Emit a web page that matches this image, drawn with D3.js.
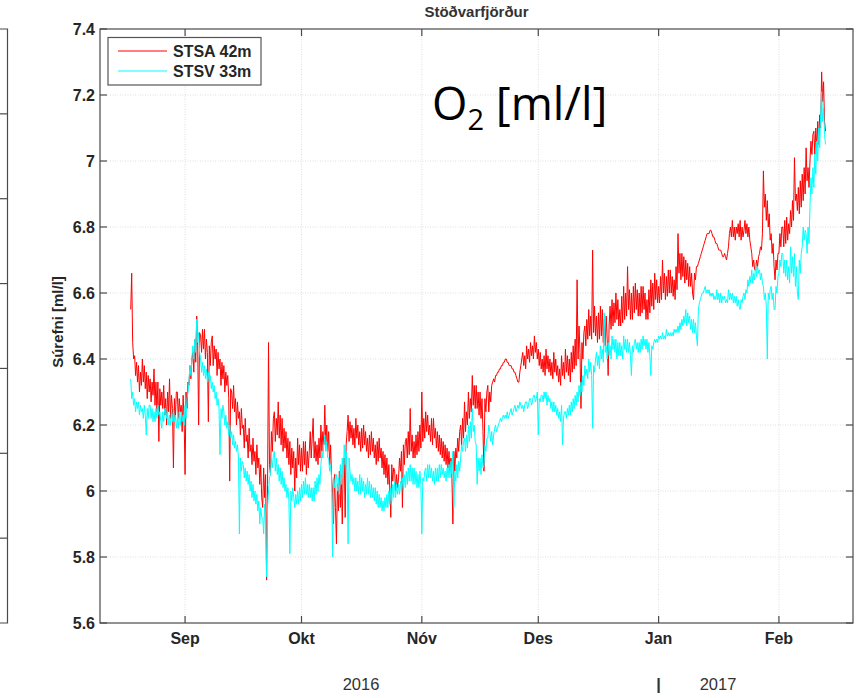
<!DOCTYPE html>
<html><head><meta charset="utf-8">
<script src="https://cdn.jsdelivr.net/npm/d3@7"></script>
<style>body{margin:0;background:#fff} svg{display:block}</style>
</head><body>
<svg id="c" width="858" height="698"></svg>
<script>
const chartTitle = "Stöðvarfjörður";
const yLabel = "Súrefni [ml/l]";
const annotation = ["O", "2", " [ml/l]"];
const seriesNames = ["STSA 42m", "STSV 33m"];
const seriesColors = ["#ff0000", "#00ffff"];
const yTicks = [5.6, 5.8, 6, 6.2, 6.4, 6.6, 6.8, 7, 7.2, 7.4];
const monthTicks = ["2016-09-01", "2016-10-01", "2016-11-01", "2016-12-01", "2017-01-01", "2017-02-01"];
const monthLabels = ["Sep", "Okt", "Nóv", "Des", "Jan", "Feb"];
const yearLabels = ["2016", "|", "2017"];
const startTime = "2016-08-18T00:00:00Z";
const stepHours = 6;

// STSA 42m (red), four readings per day from 18 Aug 2016
const stsa = [
6.55,6.66,6.45,6.40, 6.41,6.35,6.39,6.33, 6.38,6.30,6.36,6.32, 6.40,6.33,6.38,6.31, 6.36,6.28,6.35,6.30,
6.34,6.27,6.33,6.29, 6.37,6.26,6.33,6.24, 6.33,6.15,6.31,6.26, 6.30,6.25,6.32,6.23, 6.28,6.20,6.30,6.24,
6.34,6.22,6.29,6.25, 6.07,6.28,6.22,6.30, 6.30,6.22,6.28,6.24, 6.26,6.18,6.29,6.22, 6.05,6.30,6.25,6.33,
6.32,6.38,6.34,6.40, 6.42,6.36,6.46,6.39, 6.53,6.44,6.20,6.48, 6.47,6.42,6.49,6.43, 6.49,6.40,6.46,6.42,
6.21,6.44,6.38,6.45, 6.47,6.38,6.44,6.40, 6.43,6.35,6.42,6.37, 6.40,6.32,6.39,6.34, 6.38,6.30,6.36,6.32,
6.35,6.28,6.03,6.31, 6.30,6.25,6.32,6.24, 6.28,6.20,6.27,6.22, 6.24,6.17,6.25,6.19, 6.20,6.13,6.22,6.15,
6.17,6.10,6.19,6.12, 6.14,6.08,6.16,6.09, 6.12,6.05,6.14,6.07, 6.10,6.02,6.08,5.98, 5.95,6.07,5.98,6.05,
5.73,6.02,6.45,6.08, 6.05,6.18,6.12,6.22, 6.24,6.15,6.22,6.17, 6.27,6.16,6.23,6.14, 6.22,6.12,6.19,6.13,
6.18,6.10,6.16,6.08, 6.15,6.05,6.13,6.07, 6.12,6.00,6.10,6.04, 6.16,6.08,6.14,6.06, 6.13,6.06,6.15,6.08,
6.15,6.05,6.12,6.07, 6.12,6.18,6.10,6.16, 6.22,6.10,6.15,6.09, 6.14,6.08,6.16,6.10, 6.20,6.12,6.18,6.14,
6.26,6.14,6.20,6.12, 6.18,6.08,6.14,6.04, 6.00,5.90,6.05,5.95, 5.84,6.02,5.94,6.06, 5.95,6.05,5.90,6.08,
6.10,5.92,6.14,6.18, 6.23,6.15,6.21,6.16, 6.20,6.14,6.19,6.13, 6.22,6.16,6.20,6.14, 6.18,6.12,6.19,6.13,
6.20,6.14,6.18,6.12, 6.16,6.10,6.17,6.11, 6.18,6.12,6.16,6.10, 6.14,6.08,6.15,6.09, 6.16,6.10,6.13,6.07,
6.12,6.05,6.11,6.04, 6.10,6.02,6.08,6.00, 5.92,6.08,6.03,6.07, 6.06,6.00,6.05,6.01, 6.04,6.10,6.06,6.12,
5.95,6.14,6.08,6.15, 6.16,6.10,6.18,6.11, 6.25,6.12,6.17,6.10, 6.15,6.10,6.17,6.11, 6.18,6.12,6.20,6.13,
6.30,6.15,6.22,6.16, 6.24,6.18,6.23,6.17, 6.20,6.15,6.22,6.14, 6.22,6.16,6.19,6.13, 6.18,6.12,6.17,6.11,
6.16,6.10,6.15,6.09, 6.14,6.08,6.13,6.07, 6.12,6.06,6.10,6.04, 5.90,6.12,6.06,6.13, 6.10,6.16,6.12,6.18,
6.20,6.14,6.22,6.16, 6.27,6.18,6.24,6.20, 6.30,6.22,6.28,6.24, 6.35,6.26,6.32,6.25, 6.32,6.25,6.30,6.23,
6.30,6.22,6.28,6.18, 6.06,6.28,6.24,6.30, 6.32,6.24,6.30,6.27, 6.32,6.33,6.34,6.33, 6.35,6.35,6.36,6.36,
6.37,6.37,6.38,6.38, 6.39,6.39,6.40,6.40, 6.39,6.39,6.38,6.38, 6.38,6.37,6.37,6.36, 6.36,6.35,6.34,6.33,
6.33,6.36,6.38,6.40, 6.42,6.38,6.41,6.37, 6.44,6.40,6.43,6.39, 6.45,6.41,6.44,6.40, 6.47,6.42,6.45,6.40,
6.43,6.38,6.42,6.37, 6.40,6.36,6.41,6.35, 6.43,6.37,6.41,6.36, 6.40,6.35,6.39,6.34, 6.42,6.36,6.40,6.35,
6.38,6.33,6.37,6.32, 6.41,6.35,6.39,6.34, 6.43,6.36,6.41,6.35, 6.40,6.33,6.42,6.36, 6.44,6.37,6.46,6.38,
6.64,6.40,6.50,6.42, 6.25,6.45,6.40,6.48, 6.50,6.44,6.52,6.46, 6.55,6.47,6.53,6.46, 6.73,6.48,6.56,6.47,
6.53,6.45,6.54,6.46, 6.56,6.47,6.55,6.45, 6.52,6.44,6.53,6.46, 6.35,6.50,6.56,6.49, 6.58,6.50,6.57,6.51,
6.60,6.52,6.58,6.50, 6.55,6.50,6.59,6.51, 6.62,6.52,6.60,6.53, 6.68,6.55,6.61,6.52, 6.60,6.52,6.62,6.54,
6.63,6.55,6.61,6.53, 6.60,6.53,6.62,6.54, 6.62,6.55,6.60,6.52, 6.58,6.52,6.61,6.54, 6.64,6.56,6.63,6.55,
6.66,6.58,6.64,6.57, 6.62,6.57,6.65,6.58, 6.70,6.60,6.66,6.58, 6.65,6.59,6.67,6.60, 6.67,6.60,6.65,6.59,
6.64,6.58,6.68,6.61, 6.78,6.66,6.72,6.64, 6.72,6.65,6.71,6.63, 6.70,6.64,6.69,6.62, 6.68,6.62,6.66,6.60,
6.58,6.66,6.64,6.68, 6.68,6.69,6.70,6.71, 6.72,6.73,6.74,6.75, 6.76,6.77,6.78,6.78, 6.78,6.79,6.79,6.78,
6.77,6.77,6.76,6.75, 6.75,6.74,6.73,6.73, 6.73,6.72,6.71,6.71, 6.72,6.71,6.70,6.72, 6.74,6.78,6.80,6.77,
6.82,6.77,6.80,6.76, 6.80,6.78,6.81,6.77, 6.82,6.76,6.80,6.77, 6.79,6.82,6.78,6.81, 6.77,6.80,6.76,6.74,
6.72,6.68,6.70,6.67, 6.67,6.70,6.68,6.71, 6.72,6.74,6.73,6.78, 6.97,6.86,6.90,6.82, 6.88,6.80,6.84,6.76,
6.78,6.72,6.75,6.68, 6.64,6.70,6.67,6.72, 6.72,6.78,6.74,6.80, 6.80,6.74,6.82,6.75, 6.83,6.76,6.81,6.78,
6.85,6.80,6.88,6.82, 7.01,6.88,6.90,6.85, 6.92,6.84,6.94,6.86, 6.96,6.88,6.98,6.90, 7.04,6.94,6.98,6.92,
7.00,7.06,7.02,7.08, 7.09,7.02,7.10,7.04, 7.12,7.05,7.14,7.10, 7.27,7.18,7.24,7.12, 7.09
];

// STSV 33m (cyan), four readings per day from 18 Aug 2016
const stsv = [
6.34,6.28,6.30,6.26, 6.28,6.24,6.27,6.25, 6.27,6.23,6.26,6.24, 6.25,6.22,6.26,6.23, 6.17,6.25,6.22,6.26,
6.26,6.22,6.25,6.21, 6.24,6.21,6.25,6.22, 6.26,6.23,6.24,6.21, 6.19,6.24,6.21,6.25, 6.25,6.22,6.24,6.20,
6.23,6.20,6.24,6.21, 6.25,6.21,6.23,6.19, 6.22,6.19,6.24,6.20, 6.24,6.21,6.23,6.20, 6.26,6.22,6.28,6.30,
6.33,6.38,6.35,6.40, 6.44,6.40,6.46,6.42, 6.52,6.45,6.48,6.42, 6.40,6.36,6.39,6.35, 6.38,6.34,6.37,6.33,
6.36,6.33,6.35,6.31, 6.33,6.30,6.32,6.28, 6.30,6.26,6.28,6.25, 6.11,6.25,6.22,6.26, 6.24,6.20,6.23,6.19,
6.21,6.17,6.20,6.16, 6.18,6.14,6.17,6.13, 6.15,6.12,6.14,6.10, 5.87,6.10,6.06,6.09, 6.08,6.04,6.07,6.03,
6.06,6.02,6.05,6.00, 6.03,5.98,6.02,5.97, 6.00,5.96,5.99,5.94, 5.97,5.90,5.95,5.92, 5.92,5.87,5.96,5.90,
5.74,5.95,6.00,6.04, 6.05,6.10,6.07,6.11, 6.12,6.06,6.10,6.05, 6.08,6.03,6.07,6.02, 6.06,6.01,6.04,6.00,
6.02,5.98,6.01,5.97, 5.81,6.00,5.97,6.01, 5.98,5.95,5.99,5.96, 6.00,5.96,6.01,5.97, 6.02,5.98,6.03,5.99,
6.04,5.99,6.02,5.98, 6.02,5.98,6.01,5.97, 6.01,5.97,6.03,5.99, 6.04,6.00,6.05,6.02, 6.08,6.12,6.10,6.14,
6.17,6.12,6.15,6.10, 6.10,6.06,6.08,6.04, 5.80,6.04,6.01,6.05, 6.05,6.00,6.04,5.99, 6.08,6.02,6.10,6.04,
6.14,6.08,6.12,6.06, 5.84,6.10,6.06,6.03, 6.05,6.02,6.04,6.00, 6.04,6.00,6.03,5.99, 6.05,5.99,6.04,6.00,
6.03,5.98,6.02,5.99, 6.04,5.99,6.03,5.98, 6.02,5.98,6.01,5.97, 6.01,5.96,6.00,5.95, 5.99,5.95,5.98,5.94,
5.97,5.94,5.98,5.95, 5.99,5.95,6.00,5.96, 6.01,5.97,6.02,5.98, 6.03,5.98,6.02,5.99, 6.02,5.99,6.03,6.00,
6.04,6.00,6.05,6.01, 6.06,6.02,6.07,6.03, 6.08,6.03,6.07,6.02, 6.07,6.02,6.06,6.01, 6.05,6.01,6.06,6.02,
5.87,6.04,6.03,6.06, 6.07,6.03,6.08,6.04, 6.08,6.04,6.07,6.03, 6.06,6.02,6.07,6.03, 6.07,6.03,6.08,6.04,
6.08,6.05,6.07,6.04, 6.06,6.03,6.07,6.04, 6.08,6.04,6.09,6.05, 6.12,5.95,6.06,6.03, 6.08,6.04,6.09,6.06,
6.10,6.14,6.12,6.15, 6.16,6.12,6.17,6.13, 6.20,6.15,6.21,6.16, 6.25,6.18,6.20,6.15, 6.14,6.02,6.10,6.06,
6.10,6.05,6.11,6.07, 6.08,6.14,6.12,6.16, 6.16,6.20,6.18,6.15, 6.18,6.14,6.17,6.19, 6.20,6.18,6.19,6.20,
6.21,6.22,6.21,6.22, 6.23,6.22,6.23,6.22, 6.24,6.22,6.23,6.24, 6.25,6.23,6.24,6.25, 6.26,6.24,6.25,6.26,
6.25,6.27,6.26,6.25, 6.26,6.24,6.26,6.27, 6.27,6.25,6.26,6.28, 6.28,6.26,6.27,6.29, 6.29,6.27,6.28,6.30,
6.17,6.28,6.27,6.29, 6.29,6.27,6.30,6.28, 6.30,6.26,6.29,6.27, 6.28,6.25,6.27,6.24, 6.27,6.24,6.26,6.23,
6.25,6.22,6.24,6.21, 6.26,6.14,6.22,6.24, 6.24,6.22,6.25,6.23, 6.26,6.23,6.27,6.24, 6.28,6.25,6.29,6.26,
6.30,6.27,6.32,6.29, 6.33,6.30,6.35,6.32, 6.38,6.35,6.37,6.34, 6.40,6.36,6.39,6.35, 6.19,6.38,6.36,6.40,
6.42,6.38,6.41,6.37, 6.44,6.40,6.43,6.39, 6.54,6.42,6.44,6.40, 6.45,6.41,6.44,6.40, 6.47,6.43,6.46,6.42,
6.46,6.40,6.45,6.41, 6.45,6.41,6.44,6.40, 6.47,6.43,6.46,6.42, 6.46,6.42,6.45,6.41, 6.35,6.44,6.42,6.45,
6.46,6.43,6.45,6.42, 6.45,6.42,6.46,6.43, 6.47,6.44,6.46,6.43, 6.46,6.42,6.45,6.41, 6.35,6.44,6.43,6.45,
6.46,6.45,6.46,6.45, 6.47,6.46,6.47,6.46, 6.48,6.46,6.47,6.46, 6.49,6.47,6.48,6.47, 6.48,6.47,6.48,6.47,
6.49,6.48,6.49,6.48, 6.50,6.48,6.51,6.49, 6.52,6.50,6.53,6.51, 6.55,6.50,6.54,6.51, 6.53,6.49,6.52,6.48,
6.52,6.48,6.51,6.47, 6.44,6.55,6.57,6.58, 6.59,6.60,6.60,6.61, 6.62,6.60,6.61,6.60, 6.61,6.59,6.60,6.59,
6.60,6.58,6.59,6.58, 6.61,6.58,6.60,6.57, 6.60,6.57,6.59,6.58, 6.59,6.57,6.58,6.57, 6.61,6.58,6.60,6.58,
6.60,6.57,6.59,6.57, 6.59,6.56,6.58,6.56, 6.55,6.58,6.57,6.59, 6.60,6.58,6.61,6.60, 6.64,6.62,6.65,6.63,
6.67,6.63,6.66,6.64, 6.69,6.65,6.68,6.66, 6.67,6.64,6.66,6.63, 6.62,6.58,6.60,6.56, 6.40,6.60,6.58,6.61,
6.62,6.58,6.60,6.55, 6.55,6.62,6.60,6.65, 6.66,6.70,6.68,6.72, 6.72,6.66,6.70,6.65, 6.70,6.64,6.68,6.63,
6.74,6.66,6.71,6.65, 6.72,6.62,6.68,6.60, 6.58,6.70,6.66,6.72, 6.74,6.80,6.76,6.79, 6.78,6.72,6.80,6.75,
6.86,6.95,6.90,6.98, 6.92,7.02,6.96,7.06, 7.00,7.10,7.04,7.14, 7.21,7.12,7.16,7.08, 7.05
];

const plot = {left: 100, right: 853, top: 29, bottom: 623};
const svg = d3.select("#c");
const axisColor = "#4a4a4a";
const textColor = "#262626";
const FONT = "'Liberation Sans', Arial, Helvetica, sans-serif";

const x = d3.scaleUtc()
  .domain([new Date(Date.UTC(2016, 7, 10, 2)), new Date(Date.UTC(2017, 1, 20, 2))])
  .range([plot.left, plot.right]);
const y = d3.scaleLinear().domain([5.6, 7.4]).range([plot.bottom, plot.top]);

const t0 = new Date(startTime).getTime();
const timeAt = i => new Date(t0 + i * stepHours * 3600 * 1000);
const tickDates = monthTicks.map(s => new Date(s + "T00:00:00Z"));

// left partial panel
const lp = svg.append("g").attr("stroke", axisColor).attr("stroke-width", 1.2).attr("fill", "none");
lp.append("path").attr("d", `M0,${plot.top}H7.5V${plot.bottom}H0`);
const leftPanelTicks = [1, 2, 3, 4, 5, 6];
leftPanelTicks.forEach(k => {
  const yy = plot.top + k * (plot.bottom - plot.top) / 7;
  lp.append("line").attr("x1", 0).attr("x2", 7.5).attr("y1", yy).attr("y2", yy);
});

// grid
const grid = svg.append("g").attr("stroke", "#dedede").attr("stroke-width", 1).attr("stroke-dasharray", "1,1.5");
tickDates.forEach(d => grid.append("line").attr("x1", x(d)).attr("x2", x(d)).attr("y1", plot.top).attr("y2", plot.bottom));
yTicks.slice(1, -1).forEach(v => grid.append("line").attr("x1", plot.left).attr("x2", plot.right).attr("y1", y(v)).attr("y2", y(v)));

// data
svg.append("clipPath").attr("id", "clip").append("rect")
  .attr("x", plot.left).attr("y", plot.top).attr("width", plot.right - plot.left).attr("height", plot.bottom - plot.top);
const line = d3.line().x((d, i) => x(timeAt(i))).y(d => y(d));
const dg = svg.append("g").attr("clip-path", "url(#clip)");
[stsa, stsv].forEach((vals, k) => {
  dg.append("path").datum(vals).attr("d", line).attr("fill", "none")
    .attr("stroke", seriesColors[k]).attr("stroke-width", 1).attr("stroke-linejoin", "round");
});

// axes box and ticks
const ax = svg.append("g").attr("stroke", axisColor).attr("stroke-width", 1.2).attr("fill", "none");
ax.append("rect").attr("x", plot.left).attr("y", plot.top).attr("width", plot.right - plot.left).attr("height", plot.bottom - plot.top);
const tl = 7;
tickDates.forEach(d => {
  ax.append("line").attr("x1", x(d)).attr("x2", x(d)).attr("y1", plot.bottom).attr("y2", plot.bottom - tl);
  ax.append("line").attr("x1", x(d)).attr("x2", x(d)).attr("y1", plot.top).attr("y2", plot.top + tl);
});
yTicks.forEach(v => {
  ax.append("line").attr("x1", plot.left).attr("x2", plot.left + tl).attr("y1", y(v)).attr("y2", y(v));
  ax.append("line").attr("x1", plot.right).attr("x2", plot.right - tl).attr("y1", y(v)).attr("y2", y(v));
});

// tick labels
const tg = svg.append("g").attr("font-family", FONT).attr("font-weight", "bold").attr("font-size", 16).attr("fill", textColor);
yTicks.forEach(v => tg.append("text").attr("x", plot.left - 5).attr("y", y(v)).attr("dy", "0.36em")
  .attr("text-anchor", "end").text(d3.format("~g")(v)));
tickDates.forEach((d, i) => tg.append("text").attr("x", x(d)).attr("y", 644)
  .attr("text-anchor", "middle").text(monthLabels[i]));

// year labels
const yg = svg.append("g").attr("font-family", FONT).attr("font-size", 16.5).attr("fill", "#333");
yg.append("text").attr("x", 361).attr("y", 690).attr("text-anchor", "middle").text(yearLabels[0]);
yg.append("text").attr("x", x(new Date(Date.UTC(2017, 0, 1)))).attr("y", 690).attr("text-anchor", "middle").attr("font-weight", "bold").text(yearLabels[1]);
yg.append("text").attr("x", 718).attr("y", 690).attr("text-anchor", "middle").text(yearLabels[2]);

// title
svg.append("text").attr("x", (plot.left + plot.right) / 2).attr("y", 17).attr("text-anchor", "middle")
  .attr("font-family", FONT).attr("font-weight", "bold").attr("font-size", 15).attr("fill", "#333").text(chartTitle);

// y label
svg.append("text").attr("transform", `translate(63,${(plot.top + plot.bottom) / 2 - 4}) rotate(-90)`)
  .attr("text-anchor", "middle").attr("font-family", FONT).attr("font-weight", "bold").attr("font-size", 15)
  .attr("fill", textColor).text(yLabel);

// legend
const lg = svg.append("g");
lg.append("rect").attr("x", 108).attr("y", 37.5).attr("width", 153).attr("height", 47.5)
  .attr("fill", "#fff").attr("stroke", "#555").attr("stroke-width", 1.2);
seriesNames.forEach((n, i) => {
  const yy = 51 + i * 20;
  lg.append("line").attr("x1", 118).attr("x2", 167).attr("y1", yy).attr("y2", yy).attr("stroke", seriesColors[i]).attr("stroke-width", 1.2);
  lg.append("text").attr("x", 173).attr("y", yy).attr("dy", "0.36em").attr("font-family", FONT)
    .attr("font-weight", "bold").attr("font-size", 16).attr("fill", textColor).text(n);
});

// annotation O2 [ml/l]
const an = svg.append("text").attr("x", 432).attr("y", 120).attr("font-family", "'Open Sans', Lato, sans-serif")
  .attr("font-size", 45.5).attr("fill", "#000");
an.append("tspan").text(annotation[0]);
an.append("tspan").attr("font-size", 29).attr("dy", 10).text(annotation[1]);
an.append("tspan").attr("dy", -10).text(annotation[2]);
</script>
</body></html>
